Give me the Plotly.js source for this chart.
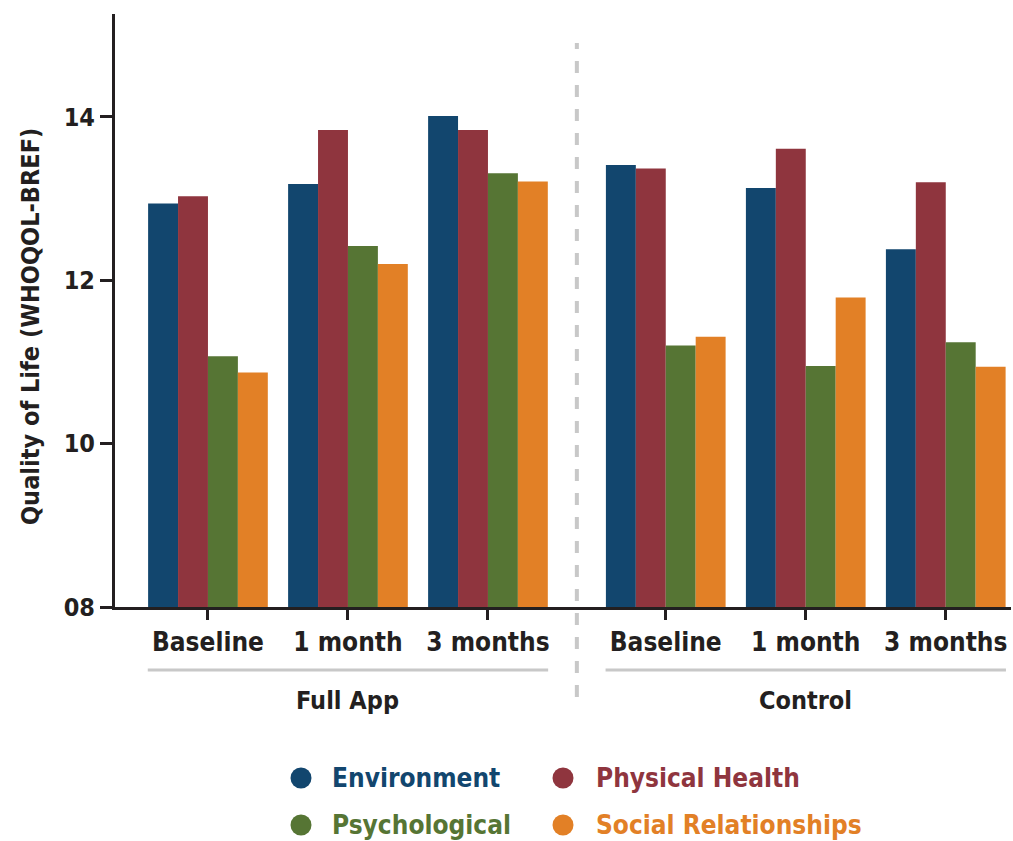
<!DOCTYPE html>
<html>
<head>
<meta charset="utf-8">
<script src="https://cdn.plot.ly/plotly-3.0.1.min.js"></script>
<style>
  html, body { margin: 0; padding: 0; background: #ffffff; }
  #chart { width: 1013px; height: 841px; }
</style>
</head>
<body>
<div id="chart"></div>
<script>
// ---- data ----
const categories = ['Baseline', '1 month', '3 months'];
const groups = ['Full App', 'Control'];
const xPositions = [0, 1, 2, 3.27, 4.27, 5.27];
const tickLabels = categories.concat(categories);

const seriesNames = ['Environment', 'Physical Health', 'Psychological', 'Social Relationships'];
const seriesColors = ['#12466e', '#8f353e', '#567534', '#e28026'];

const environment   = [12.94, 13.18, 14.01, 13.41, 13.13, 12.38];
const physical      = [13.03, 13.84, 13.84, 13.37, 13.61, 13.20];
const psychological = [11.07, 12.42, 13.31, 11.20, 10.95, 11.24];
const social        = [10.87, 12.20, 13.21, 11.31, 11.79, 10.94];

const yTickVals = [8, 10, 12, 14];
const yTickText = ['08', '10', '12', '14'];

// ---- style ----
const FONT = '"DejaVu Sans Condensed", "DejaVu Sans", sans-serif';
const INK = '#231f20';
const GREY = '#c8c8c8';

const values = [environment, physical, psychological, social];
const traces = values.map((v, i) => ({
  type: 'bar',
  x: xPositions,
  y: v,
  name: seriesNames[i],
  marker: { color: seriesColors[i], line: { width: 0 } },
  showlegend: false,
  hoverinfo: 'y+name'
}));

const M = { l: 115, r: 2, t: 14, b: 234 };
const W = 1013, H = 841;
const pw = W - M.l - M.r, ph = H - M.t - M.b;
const px2x = p => (p - M.l) / pw;
const py2y = p => (H - M.b - p) / ph;

const halfGroup = 0.43;
const shapes = [];
const annotations = [];

// dashed separator between groups
shapes.push({
  type: 'line', xref: 'x', yref: 'paper',
  x0: (xPositions[2] + xPositions[3]) / 2, x1: (xPositions[2] + xPositions[3]) / 2,
  y0: py2y(697), y1: py2y(43),
  line: { color: GREY, width: 4, dash: 'dash' }
});

// group underlines & labels
groups.forEach((g, gi) => {
  const xs = xPositions.slice(gi * 3, gi * 3 + 3);
  shapes.push({
    type: 'line', xref: 'x', yref: 'paper',
    x0: xs[0] - halfGroup, x1: xs[2] + halfGroup,
    y0: py2y(670), y1: py2y(670),
    line: { color: GREY, width: 3 }
  });
  annotations.push({
    text: g, xref: 'x', yref: 'paper', x: xs[1], y: py2y(701),
    xanchor: 'center', yanchor: 'middle', showarrow: false,
    font: { family: FONT, size: 25, color: INK, weight: 700 }
  });
});

// y axis title
annotations.push({
  text: 'Quality of Life (WHOQOL-BREF)', xref: 'paper', yref: 'paper',
  x: px2x(30), y: py2y(327), textangle: -90,
  xanchor: 'center', yanchor: 'middle', showarrow: false,
  font: { family: FONT, size: 25, color: INK, weight: 700 }
});

// custom legend (2 columns)
const legPos = [
  { cx: 301, cy: 778, tx: 330 },
  { cx: 563, cy: 778, tx: 594 },
  { cx: 301, cy: 825, tx: 330 },
  { cx: 563, cy: 825, tx: 594 }
];
seriesNames.forEach((n, i) => {
  const p = legPos[i];
  shapes.push({
    type: 'circle', xref: 'paper', yref: 'paper',
    xsizemode: 'pixel', ysizemode: 'pixel',
    xanchor: px2x(p.cx), yanchor: py2y(p.cy),
    x0: -10.5, x1: 10.5, y0: -10.5, y1: 10.5,
    fillcolor: seriesColors[i], line: { width: 0 }
  });
  annotations.push({
    text: n, xref: 'paper', yref: 'paper',
    x: px2x(p.tx), y: py2y(p.cy),
    xanchor: 'left', yanchor: 'middle', showarrow: false,
    font: { family: FONT, size: 26, color: seriesColors[i], weight: 700 }
  });
});

const axisCommon = {
  showline: true, linewidth: 3, linecolor: INK,
  ticks: 'outside', ticklen: 10, tickwidth: 3, tickcolor: INK,
  showgrid: false, zeroline: false, fixedrange: true,
  tickfont: { family: FONT, size: 26, color: INK, weight: 700 }
};

const layout = {
  width: W, height: H,
  margin: { l: M.l, r: M.r, t: M.t, b: M.b, pad: 0 },
  paper_bgcolor: '#ffffff', plot_bgcolor: '#ffffff',
  barmode: 'group', bargap: 0.145, bargroupgap: 0,
  showlegend: false,
  font: { family: FONT, color: INK },
  xaxis: Object.assign({}, axisCommon, {
    type: 'linear',
    range: [-0.664, 5.736],
    tickangle: 0,
    tickmode: 'array', tickvals: xPositions, ticktext: tickLabels
  }),
  yaxis: Object.assign({}, axisCommon, {
    range: [8, 15.26],
    tickmode: 'array', tickvals: yTickVals, ticktext: yTickText,
    ticklen: 12,
    tickfont: { family: FONT, size: 25, color: INK, weight: 700 }
  }),
  shapes: shapes,
  annotations: annotations
};

Plotly.newPlot('chart', traces, layout, { displayModeBar: false, staticPlot: true });
</script>
</body>
</html>
